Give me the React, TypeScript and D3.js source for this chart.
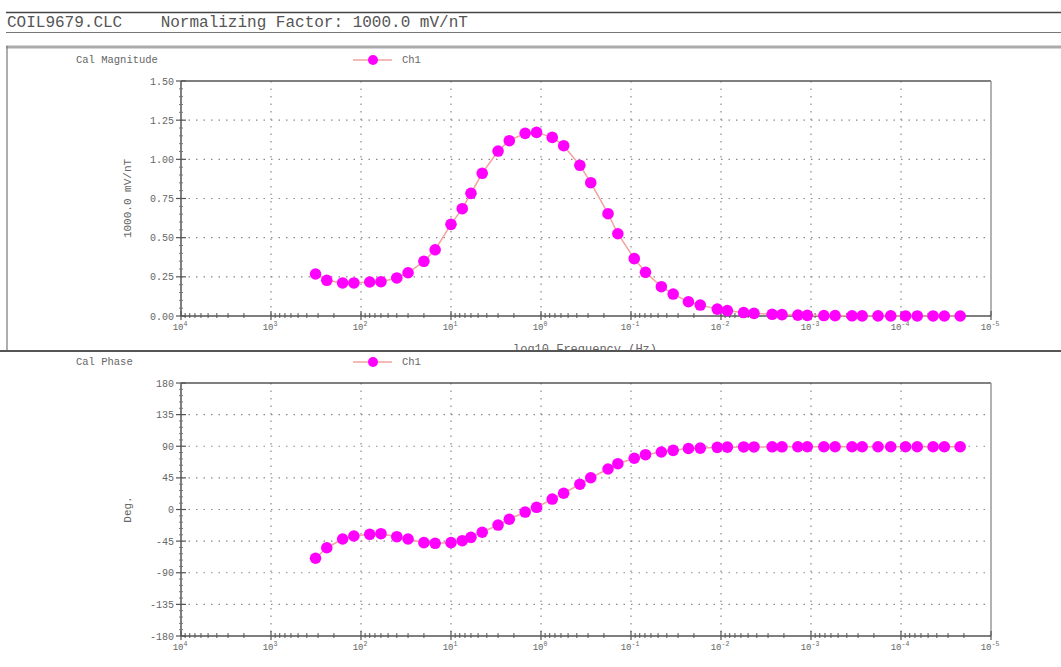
import React from "react";
import * as d3 from "d3";

const FREQ = [320, 240, 160, 120, 80, 60, 40, 30, 20, 15, 10, 7.5, 6, 4.5, 3, 2.25, 1.5, 1.12, 0.75, 0.56, 0.37, 0.28, 0.18, 0.14, 0.092, 0.069, 0.046, 0.034, 0.023, 0.017, 0.011, 0.0085, 0.0056, 0.0043, 0.0027, 0.0021, 0.0014, 0.0011, 7.2e-4, 5.4e-4, 3.5e-4, 2.7e-4, 1.8e-4, 1.3e-4, 8.9e-5, 6.6e-5, 4.4e-5, 3.3e-5, 2.2e-5];
const MAG = [0.268, 0.228, 0.211, 0.211, 0.217, 0.219, 0.243, 0.276, 0.349, 0.423, 0.585, 0.685, 0.783, 0.911, 1.053, 1.119, 1.166, 1.172, 1.14, 1.087, 0.962, 0.851, 0.653, 0.525, 0.366, 0.279, 0.187, 0.14, 0.091, 0.07, 0.044, 0.034, 0.022, 0.017, 0.011, 0.0085, 0.0056, 0.0043, 0.0029, 0.0022, 0.0014, 0.0011, 0.0007, 0.0005, 0.00036, 0.00026, 0.00018, 0.00013, 0.00009];
const PHASE = [-69.4, -54.4, -42, -37.7, -35.3, -34.4, -38.7, -42, -47.2, -48.1, -47.2, -44.4, -39.6, -32.4, -22.1, -13.9, -3.6, 3.1, 14.9, 23.1, 35.9, 45.2, 57.6, 65.2, 72.9, 78, 81.8, 84.2, 86.8, 87.3, 88.4, 88.7, 89, 89, 89.2, 89.2, 89.3, 89.3, 89.3, 89.3, 89.3, 89.3, 89.3, 89.3, 89.3, 89.3, 89.3, 89.3, 89.3];
const DECADES = [4, 3, 2, 1, 0, -1, -2, -3, -4, -5];
const MAG_TICKS = [0, 0.25, 0.5, 0.75, 1.0, 1.25, 1.5];
const PHASE_TICKS = [-180, -135, -90, -45, 0, 45, 90, 135, 180];

const FONT = "'Liberation Mono', 'DejaVu Sans Mono', monospace";
const TXT = "#666";
const PINK = "#f2a3a0";
const MAGENTA = "#ff00ff";

const X0 = 181, X1 = 991;
const x = d3.scaleLog().domain([1e4, 1e-5]).range([X0, X1]);

type PanelProps = {
  top: number; bottom: number; title: string; yLabel: string;
  values: number[]; domain: [number, number]; ticks: number[];
  fmt: (v: number) => string;
};

function Panel({ top, bottom, title, yLabel, values, domain, ticks, fmt }: PanelProps) {
  const y = d3.scaleLinear().domain(domain).range([bottom, top]);
  const line = d3.line<number>().x((_, i) => x(FREQ[i])).y((v) => y(v));
  const minor: number[] = [];
  DECADES.slice(0, -1).forEach((d) => {
    for (let k = 2; k <= 9; k++) minor.push(Math.pow(10, d - 1) * k);
  });
  const yMinor: number[] = [];
  for (let i = 0; i < ticks.length - 1; i++) {
    const step = (ticks[i + 1] - ticks[i]) / 5;
    for (let k = 1; k < 5; k++) yMinor.push(ticks[i] + step * k);
  }
  const ymid = (top + bottom) / 2;
  const legY = top - 21;
  return (
    <g>
      <text x={76} y={legY + 3} fontSize={10.5} fill={TXT} fontFamily={FONT}>{title}</text>
      <line x1={353} x2={392} y1={legY} y2={legY} stroke={PINK} strokeWidth={1.5} />
      <circle cx={373} cy={legY} r={5} fill={MAGENTA} />
      <text x={402} y={legY + 3} fontSize={10.5} fill={TXT} fontFamily={FONT}>Ch1</text>
      {DECADES.slice(1, -1).map((d) => (
        <line key={"vg" + d} x1={x(Math.pow(10, d))} x2={x(Math.pow(10, d))} y1={top} y2={bottom}
          stroke="#8a8a8a" strokeWidth={1.2} strokeDasharray="1.5,6" />
      ))}
      {ticks.slice(1, -1).map((t) => (
        <line key={"hg" + t} x1={X0} x2={X1} y1={y(t)} y2={y(t)}
          stroke="#8a8a8a" strokeWidth={1.2} strokeDasharray="1.5,6" />
      ))}
      <line x1={X0} x2={X1} y1={top} y2={top} stroke="#555" strokeWidth={1.5} />
      <line x1={X1} x2={X1} y1={top} y2={bottom} stroke="#999" strokeWidth={1.5} />
      <line x1={X0} x2={X1} y1={bottom} y2={bottom} stroke="#555" strokeWidth={1.5} />
      <line x1={X0} x2={X0} y1={top} y2={bottom} stroke="#555" strokeWidth={1.5} />
      {ticks.map((t) => (
        <g key={"yt" + t}>
          <line x1={X0 - 5} x2={X0 + 5} y1={y(t)} y2={y(t)} stroke="#555" strokeWidth={1.2} />
          <text x={X0 - 7} y={y(t) + 3.5} textAnchor="end" fontSize={10} fill={TXT} fontFamily={FONT}>{fmt(t)}</text>
        </g>
      ))}
      {yMinor.map((t, i) => (
        <line key={"ym" + i} x1={X0 - 2} x2={X0 + 2} y1={y(t)} y2={y(t)} stroke="#777" strokeWidth={1} />
      ))}
      {DECADES.map((d) => (
        <g key={"xt" + d}>
          <line x1={x(Math.pow(10, d))} x2={x(Math.pow(10, d))} y1={bottom - 5} y2={bottom + 4} stroke="#555" strokeWidth={1.2} />
          <text x={x(Math.pow(10, d)) - 1} y={bottom + 14} textAnchor="middle" fontSize={9} fill={TXT} fontFamily={FONT}>
            10<tspan dy={-4} fontSize={6.5}>{d}</tspan>
          </text>
        </g>
      ))}
      {minor.map((m, i) => (
        <line key={"mn" + i} x1={x(m)} x2={x(m)} y1={bottom - 3} y2={bottom + 2} stroke="#555" strokeWidth={1} />
      ))}
      <text transform={`translate(${131},${ymid}) rotate(-90)`} textAnchor="middle" fontSize={11} fill={TXT} fontFamily={FONT}>{yLabel}</text>
      <path d={line(values) || ""} fill="none" stroke={PINK} strokeWidth={1.5} />
      {values.map((v, i) => (
        <circle key={"p" + i} cx={x(FREQ[i])} cy={y(v)} r={5.8} fill={MAGENTA} />
      ))}
    </g>
  );
}

export default function App() {
  return (
    <svg width={1061} height={667} style={{ position: "absolute", left: 0, top: 0, background: "#fff" }}>
      <rect x={0} y={0} width={1061} height={667} fill="#fff" />
      <line x1={6} x2={1061} y1={12.5} y2={12.5} stroke="#444" strokeWidth={1.5} />
      <text x={7} y={27} fontSize={16} fill="#555" fontFamily={FONT} style={{ whiteSpace: "pre" }}>
        {"COIL9679.CLC    Normalizing Factor: 1000.0 mV/nT"}
      </text>
      <line x1={6} x2={1061} y1={32.5} y2={32.5} stroke="#777" strokeWidth={1.2} />
      <line x1={6} x2={1061} y1={47} y2={47} stroke="#aaa" strokeWidth={3} />
      <line x1={7} x2={7} y1={46} y2={351} stroke="#777" strokeWidth={1.2} />
      <Panel top={81} bottom={316} title="Cal Magnitude" yLabel="1000.0 mV/nT" values={MAG}
        domain={[0, 1.5]} ticks={MAG_TICKS} fmt={(v) => v.toFixed(2)} />
      <text x={585} y={353} textAnchor="middle" fontSize={12} fill={TXT} fontFamily={FONT}>log10 Frequency (Hz)</text>
      <rect x={0} y={351} width={1061} height={316} fill="#fff" />
      <line x1={0} x2={1061} y1={351} y2={351} stroke="#555" strokeWidth={1.8} />
      <Panel top={383} bottom={636} title="Cal Phase" yLabel="Deg." values={PHASE}
        domain={[-180, 180]} ticks={PHASE_TICKS} fmt={(v) => String(v)} />
    </svg>
  );
}
